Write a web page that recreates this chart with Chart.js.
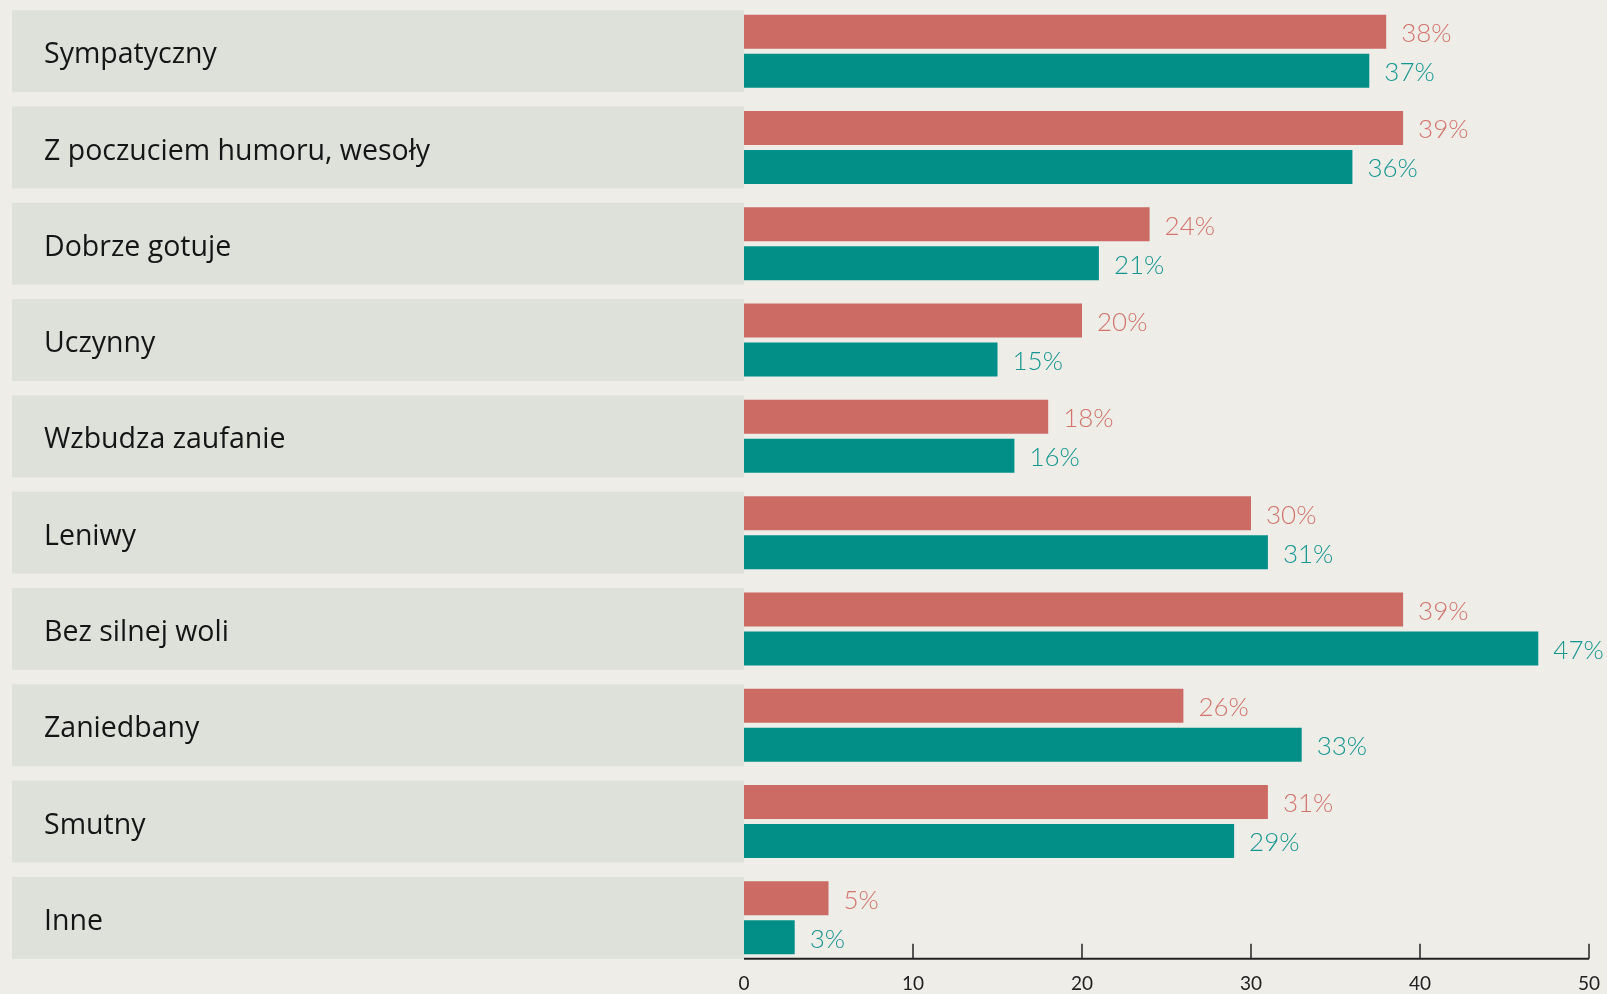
<!DOCTYPE html>
<html>
<head>
<meta charset="utf-8">
<script src="https://cdn.jsdelivr.net/npm/chart.js@4.4.0/dist/chart.umd.min.js"></script>
<style>
html,body{margin:0;padding:0;background:#EEEDE8;}
#wrap{width:1607px;height:994px;}
</style>
</head>
<body>
<div id="wrap"><canvas id="c" width="1607" height="994"></canvas></div>
<script>
const categories = ["Sympatyczny","Z poczuciem humoru, wesoły","Dobrze gotuje","Uczynny","Wzbudza zaufanie","Leniwy","Bez silnej woli","Zaniedbany","Smutny","Inne"];
const seriesA = [38,39,24,20,18,30,39,26,31,5];
const seriesB = [37,36,21,15,16,31,47,33,29,3];
const xTicks = [0,10,20,30,40,50];

const RED = '#CC6A64', TEAL = '#028F88';
const RED_TXT = '#D2736C', TEAL_TXT = '#16968F';
const BOX = '#DEE0DA';

const bgBoxes = {
  id:'bgBoxes',
  beforeDraw(chart){
    const {ctx, chartArea, scales} = chart;
    const y = scales.y;
    const band = (y.bottom - y.top)/categories.length;
    ctx.save();
    ctx.fillStyle = BOX;
    categories.forEach((c,i)=>{
      const cy = y.getPixelForValue(i);
      ctx.fillRect(12, cy - band/2 + 7.2, chartArea.left - 12, band - 14.4);
    });
    ctx.restore();
  }
};

const axisDraw = {
  id:'axisDraw',
  afterDatasetsDraw(chart){
    const {ctx, scales} = chart;
    const x = scales.x, y = scales.y;
    const ay = y.bottom - 7.2;
    ctx.save();
    ctx.strokeStyle = '#222';
    ctx.lineWidth = 2;
    ctx.beginPath();
    ctx.moveTo(x.getPixelForValue(0), ay);
    ctx.lineTo(x.getPixelForValue(50), ay);
    ctx.stroke();
    ctx.lineWidth = 1.5;
    xTicks.forEach(t=>{
      if(t===0) return;
      const px = x.getPixelForValue(t);
      ctx.beginPath();
      ctx.moveTo(px, ay - 15);
      ctx.lineTo(px, ay);
      ctx.stroke();
    });
    ctx.restore();
  }
};

const valueLabels = {
  id:'valueLabels',
  afterDatasetsDraw(chart){
    const {ctx} = chart;
    ctx.save();
    ctx.font = '300 26px Lato';
    ctx.textBaseline = 'middle';
    ctx.textAlign = 'left';
    chart.data.datasets.forEach((ds,di)=>{
      const meta = chart.getDatasetMeta(di);
      ctx.fillStyle = di===0 ? RED_TXT : TEAL_TXT;
      meta.data.forEach((el,i)=>{
        ctx.fillText(ds.data[i] + '%', el.x + 15, el.y + 2);
      });
    });
    ctx.restore();
  }
};

new Chart(document.getElementById('c'), {
  type:'bar',
  data:{
    labels: categories,
    datasets:[
      {label:'A', data: seriesA, backgroundColor: RED, categoryPercentage:0.81, barPercentage:0.872},
      {label:'B', data: seriesB, backgroundColor: TEAL, categoryPercentage:0.81, barPercentage:0.872}
    ]
  },
  options:{
    indexAxis:'y',
    responsive:false,
    animation:false,
    layout:{padding:{left:44, right:18, top:3, bottom:0}},
    plugins:{legend:{display:false}, tooltip:{enabled:false}},
    scales:{
      x:{
        min:0, max:50,
        afterBuildTicks(s){ s.ticks = xTicks.map(v=>({value:v})); },
        afterFit(s){ s.height = 28; },
        grid:{display:false, drawTicks:false},
        border:{display:false},
        ticks:{padding:6, color:'#222', font:{family:'Lato', size:19}}
      },
      y:{
        afterFit(s){ s.width = 700; s.paddingTop = 0; s.paddingBottom = 0; },
        grid:{display:false, drawTicks:false},
        border:{display:false},
        ticks:{
          crossAlign:'far', color:'#151515',
          font:{family:'Open Sans', size:28.5, lineHeight:0.28},
          callback(v){ return ['', categories[v]]; }
        }
      }
    }
  },
  plugins:[bgBoxes, axisDraw, valueLabels]
});
</script>
</body>
</html>
